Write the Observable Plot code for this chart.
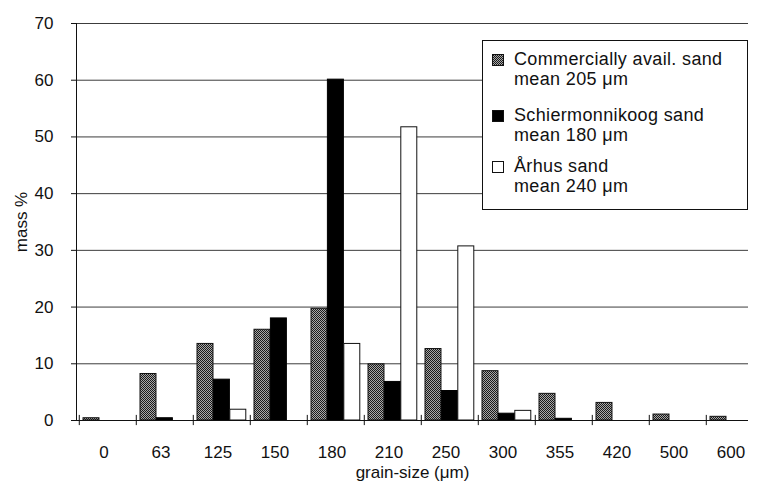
<!DOCTYPE html>
<html>
<head>
<meta charset="utf-8">
<script src="https://cdn.jsdelivr.net/npm/d3@7"></script>
<script src="https://cdn.jsdelivr.net/npm/@observablehq/plot@0.6"></script>
<style>
  html, body { margin: 0; padding: 0; background: #fff; }
  #wrap { position: relative; width: 758px; height: 483px; font-family: "Liberation Sans", Arial, Helvetica, sans-serif; }
  #legend { position: absolute; left: 482px; top: 40px; width: 266px; height: 170px; border: 1px solid #111; background: #fff; box-sizing: border-box; }
  .item { position: absolute; left: 31px; font-size: 18px; line-height: 19.5px; letter-spacing: 0.35px; color: #111; white-space: nowrap; }
</style>
</head>
<body>
<div id="wrap"></div>
<script>
const categories = ["0", "63", "125", "150", "180", "210", "250", "300", "355", "420", "500", "600"];
const commercial = [0.4, 8.2, 13.5, 16.0, 19.7, 9.9, 12.6, 8.7, 4.7, 3.1, 1.05, 0.65];
const schiermonnikoog = [0, 0.4, 7.2, 18.0, 60.1, 6.8, 5.2, 1.2, 0.3, 0, 0, 0];
const arhus = [0, 0, 1.9, 0, 13.5, 51.7, 30.7, 1.7, 0, 0, 0, 0];
const yTicks = [0, 10, 20, 30, 40, 50, 60, 70];
const seriesNames = ["Commercially avail. sand", "Schiermonnikoog sand", "Århus sand"];
const seriesMeans = ["mean 205 μm", "mean 180 μm", "mean 240 μm"];

const rows = (vals) => categories.map((c, i) => ({cat: c, v: vals[i]})).filter(d => d.v > 0);

const left = 76, rightEnd = 765;
const step = (rightEnd - left) / categories.length;
const pad = 4, bw = 16.4;

const defs = () => {
  const g = document.createElementNS("http://www.w3.org/2000/svg", "defs");
  g.innerHTML = '<pattern id="stipple" patternUnits="userSpaceOnUse" width="2" height="2">' +
    '<rect width="2" height="2" fill="#a8a8a8"/><rect width="1" height="1" fill="#1a1a1a"/>' +
    '<rect x="1" y="1" width="1" height="1" fill="#1a1a1a"/></pattern>';
  return g;
};

const chart = Plot.plot({
  width: 758,
  height: 483,
  marginLeft: 76,
  marginRight: 10,
  marginTop: 23,
  marginBottom: 63,
  style: {fontFamily: '"Liberation Sans", Arial, Helvetica, sans-serif', fontSize: "17px", color: "#111", background: "#fff"},
  x: {type: "band", domain: categories, range: [left, rightEnd], padding: 0},
  y: {domain: [0, 70]},
  marks: [
    defs,
    Plot.gridY(yTicks.filter(t => t > 0), {stroke: "#1a1a1a", strokeOpacity: 0.85, strokeWidth: 1}),
    Plot.barY(rows(commercial), {x: "cat", y: "v", fill: "url(#stipple)", stroke: "#111", strokeWidth: 1, insetLeft: pad, insetRight: step - pad - bw}),
    Plot.barY(rows(schiermonnikoog), {x: "cat", y: "v", fill: "#000", stroke: "#000", strokeWidth: 1, insetLeft: pad + bw, insetRight: step - pad - 2 * bw}),
    Plot.barY(rows(arhus), {x: "cat", y: "v", fill: "#fff", stroke: "#111", strokeWidth: 1, insetLeft: pad + 2 * bw, insetRight: step - pad - 3 * bw}),
    Plot.ruleY([0], {stroke: "#111", strokeWidth: 1}),
    Plot.frame({anchor: "left", stroke: "#111"}),
    Plot.ruleX(categories, {x: d => d, dx: -step / 2, y1: -0.9, y2: 0.9, stroke: "#111"}),
    Plot.axisY(yTicks, {tickSize: 5, tickPadding: 18, fontSize: 17, label: "mass %", labelAnchor: "center", labelArrow: "none", labelOffset: 62}),
    Plot.axisX({tickSize: 0, tickPadding: 25, fontSize: 17, dx: -4, label: "grain-size (μm)", labelAnchor: "center", labelArrow: "none", labelOffset: 57})
  ]
});

const wrap = document.getElementById("wrap");
wrap.appendChild(chart);
chart.querySelectorAll("text").forEach(t => { t.style.fontSize = "17px"; });

const legend = document.createElement("div");
legend.id = "legend";
const swFill = ["url(#stipple)", "#000", "#fff"];
const baselines = [66, 122, 173];
seriesNames.forEach((name, i) => {
  const sw = document.createElementNS("http://www.w3.org/2000/svg", "svg");
  sw.setAttribute("width", 12); sw.setAttribute("height", 12);
  sw.style.position = "absolute"; sw.style.left = "9px"; sw.style.top = (baselines[i] - 41 - 12) + "px";
  sw.innerHTML = `<rect x="0.5" y="0.5" width="11" height="11" fill="${swFill[i]}" stroke="#111"/>`;
  legend.appendChild(sw);
  const t = document.createElement("div");
  t.className = "item";
  t.style.top = (baselines[i] - 41 - 16) + "px";
  t.innerHTML = name + "<br>" + seriesMeans[i];
  legend.appendChild(t);
});
wrap.appendChild(legend);
</script>
</body>
</html>
